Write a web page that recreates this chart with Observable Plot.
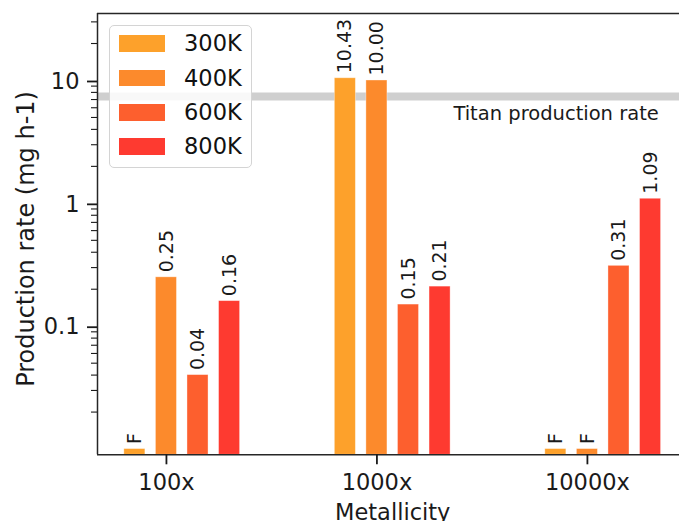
<!DOCTYPE html>
<html>
<head>
<meta charset="utf-8">
<script src="https://cdn.jsdelivr.net/npm/d3@7"></script>
<script src="https://cdn.jsdelivr.net/npm/@observablehq/plot@0.6"></script>
<style>
  body { margin: 0; background: #fff; font-family: "DejaVu Sans", sans-serif; }
  #wrap { position: relative; width: 679px; height: 521px; overflow: hidden; }
  #legend { position: absolute; left: 108.5px; top: 25px; width: 143px; height: 143px; box-sizing: border-box;
            border: 1px solid #d4d4d4; border-radius: 5px; background: rgba(255,255,255,0.85); }
  .item { position: absolute; left: 9px; height: 17px; display: flex; align-items: center; }
  .sw { width: 46px; height: 16.5px; }
  .lab { margin-left: 19.5px; font-size: 22.5px; line-height: 22.5px; color: #111; white-space: nowrap; }
</style>
</head>
<body>
<div id="wrap"></div>
<script>
// ---- data ----
const metallicity = ["100x", "1000x", "10000x"];
const temperatures = ["300K", "400K", "600K", "800K"];
const colors = ["#fda12b", "#fc8a2c", "#fd5f2e", "#fe3a30"];
// production rate (mg h-1); null = failed run, drawn as a stub labelled "F"
const rate300K = [null, 10.43, null];
const rate400K = [0.25, 10.00, null];
const rate600K = [0.04, 0.15, 0.31];
const rate800K = [0.16, 0.21, 1.09];
const failedStub = 0.01;
const titanRate = 7.4;
const titanLabel = "Titan production rate";
const yTickValues = [0.1, 1, 10];
const yTickLabels = ["0.1", "1", "10"];
const xLabel = "Metallicity";
const yLabel = "Production rate (mg h-1)";

// ---- layout ----
const series = [rate300K, rate400K, rate600K, rate800K];
const offsets = [-0.15, 0, 0.15, 0.3];
const barWidth = 0.1;
const yDomain = [0.00898, 35.1];
const xDomain = [-0.3275, 2.4375];

const rows = [];
series.forEach((vals, j) => {
  vals.forEach((v, i) => {
    rows.push({
      temp: temperatures[j],
      x: i + offsets[j],
      value: v == null ? failedStub : v,
      label: v == null ? "F" : v.toFixed(2)
    });
  });
});

const minorTicks = [];
for (const dec of [0.01, 0.1, 1, 10]) {
  for (let k = 2; k <= 9; k++) {
    const t = +(k * dec).toPrecision(3);
    if (t > yDomain[0] && t < yDomain[1]) minorTicks.push(t);
  }
}

const ink = "#1a1a1a";

const chart = Plot.plot({
  width: 679,
  height: 521,
  marginLeft: 97,
  marginRight: 0,
  marginTop: 13,
  marginBottom: 66.7,
  style: { fontFamily: "DejaVu Sans", color: ink, background: "white", overflow: "visible" },
  x: { type: "linear", domain: xDomain },
  y: { type: "log", domain: yDomain },
  color: { domain: temperatures, range: colors },
  marks: [
    Plot.ruleY([titanRate], { stroke: "#cfcfcf", strokeWidth: 8 }),
    Plot.text([{ v: titanRate, t: titanLabel }], {
      y: "v", text: "t", frameAnchor: "right", textAnchor: "end", lineAnchor: "bottom",
      dx: -20.7, dy: 23, fontSize: 19.5, fill: ink
    }),
    Plot.rectY(rows, {
      x1: d => d.x - barWidth / 2, x2: d => d.x + barWidth / 2,
      y1: yDomain[0], y2: "value", fill: "temp",
      stroke: "#fff", strokeOpacity: 0.45, strokeWidth: 0.8
    }),
    Plot.text(rows, {
      x: "x", y: "value", text: "label", rotate: -90, textAnchor: "start",
      dy: -5, fontSize: 19, fill: ink
    }),
    Plot.ruleX([xDomain[0]], { stroke: "#262626", strokeWidth: 1.5 }),
    Plot.ruleY([yDomain[0]], { stroke: "#262626", strokeWidth: 1.5 }),
    Plot.ruleY([yDomain[1]], { stroke: "#262626", strokeWidth: 1.5 }),
    Plot.axisX([0, 1, 2], {
      tickFormat: i => metallicity[i], tickSize: 10, tickPadding: 9.4,
      fontSize: 22.5, label: null, strokeWidth: 1.8, stroke: ink
    }),
    Plot.axisY(yTickValues, {
      tickFormat: d => yTickLabels[yTickValues.indexOf(d)], tickSize: 10, tickPadding: 8,
      fontSize: 22.5, label: null, strokeWidth: 1.8, stroke: ink, dy: 1
    }),
    Plot.axisY(minorTicks, {
      tickFormat: () => "", tickSize: 6, label: null, strokeWidth: 1.1, stroke: ink
    }),
    Plot.text([yLabel], {
      text: d => d, frameAnchor: "left", rotate: -90, textAnchor: "middle", lineAnchor: "bottom",
      dx: -64, dy: 4.8, fontSize: 24, fill: ink
    }),
    Plot.text([xLabel], {
      text: d => d, frameAnchor: "bottom", textAnchor: "middle", lineAnchor: "bottom",
      dx: 4.2, dy: 65, fontSize: 22.5, fill: ink
    })
  ]
});

const wrap = document.getElementById("wrap");
wrap.appendChild(chart);

// legend (HTML overlay inside the axes, upper left)
const legend = document.createElement("div");
legend.id = "legend";
temperatures.forEach((t, j) => {
  const item = document.createElement("div");
  item.className = "item";
  item.style.top = (18.5 + j * 34.4 - 8.5 - 1) + "px";
  const sw = document.createElement("div");
  sw.className = "sw";
  sw.style.background = colors[j];
  const lab = document.createElement("div");
  lab.className = "lab";
  lab.textContent = t;
  item.appendChild(sw);
  item.appendChild(lab);
  legend.appendChild(item);
});
wrap.appendChild(legend);
</script>
</body>
</html>
